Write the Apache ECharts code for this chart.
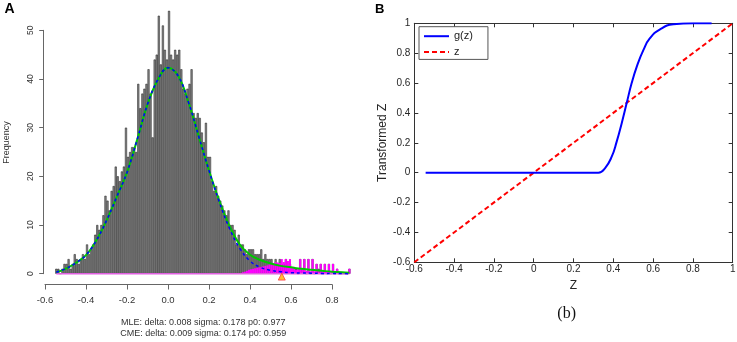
<!DOCTYPE html>
<html><head><meta charset="utf-8">
<script src="https://cdn.jsdelivr.net/npm/echarts@6/dist/echarts.min.js"></script>
<style>html,body{margin:0;padding:0;background:#fff}#c{width:737px;height:342px}</style>
</head><body><div id="c"></div>
<script>
// ---------- Panel A data ----------
const binStart = -0.55;
const binWidth = 0.01;
const histCounts = [
  1,1,0,1,2,2,3,1,2,4, 3,2,3,4,3,6,4,5,6,8,
  10,9,10,12,16,15,13,17,18,22, 20,19,21,22,30,24,25,26,26,25,
  39,34,37,38,39,42,37,28,44,45, 53,43,51,46,44,54,45,44,46,45,
  46,42,38,37,38,39,42,33,32,33, 32,29,27,31,24,24,19,17,18,16,
  15,14,13,12,13,10,10,9,6,8, 6,6,5,4,5,5,5,4,4,4,
  5,3,4,3,3,3,2,3,2,3, 2,2,3,1,2,1,1,1,0,3,
  1,3,0,3,0,3,0,2,1,2, 0,2,0,2,0,2,0,1,0,0,
  0,0,0,1
];
const tailStart = 0.36;
const tailCounts = [
  0.3,0.4,0.6,0.8,0.9,1.0,1.1,1.2,1.3,1.4,
  1.5,1.6,1.7,1.9,2.0,2.2,2.4,2.3,2.2,3,
  2.4,3,2.6,3,1.2,1.4,0.8,1,3,1,
  3,0.6,3,0.5,3,0.5,2,0.5,2,0.4,
  2,0.4,2,0.3,2,0.3,1,0.3,0.2,0.2,
  0.2,0.2,1
];
const fitX =     [-0.545,-0.5,-0.45,-0.4,-0.35,-0.3,-0.25,-0.2,-0.15,-0.1,-0.05,0.0,0.05,0.1,0.15,0.2,0.25,0.3,0.35,0.4,0.45,0.5,0.55,0.6,0.65,0.7,0.75,0.8,0.85,0.885];
const fitGreen = [0.3,1.0,2.2,3.8,6.8,10.9,15.8,20.8,27.6,34.8,39.8,42.3,40.6,35.2,28.2,21.2,15.0,9.8,6.0,3.9,2.8,2.1,1.6,1.3,1.0,0.8,0.6,0.4,0.3,0.2];
const fitBlue =  [0.3,1.0,2.2,3.8,6.8,10.9,15.8,20.8,27.6,34.8,39.8,42.3,40.6,35.2,28.2,21.2,14.8,9.3,5.2,2.6,1.3,0.7,0.4,0.2,0.15,0.1,0.05,0.05,0.02,0];
const deltaMarkX = [0.555];
const deltaMarkY = [-0.6];
const xTicksA = {min: -0.6, max: 0.8, step: 0.2};
const yTicksA = {min: 0, max: 50, step: 10};
const mleText = 'MLE: delta: 0.008 sigma: 0.178 p0: 0.977';
const cmeText = 'CME: delta: 0.009 sigma: 0.174 p0: 0.959';

// ---------- Panel B data ----------
const zLineX = [-0.6, 1];
const gX = [-0.543,-0.4,-0.2,0,0.2,0.325,0.358,0.392,0.417,0.442,0.467,0.492,0.518,0.551,0.584,0.635,0.702,0.802,0.894];
const gY = [0,0,0,0,0,0,0.029,0.107,0.208,0.33,0.464,0.598,0.71,0.82,0.9,0.96,0.993,1,1];
const ticksB = {min: -0.6, max: 1, step: 0.2};

// ---------- build ----------
const FONT = 'Liberation Sans, Arial, sans-serif';
const centers = histCounts.map((_, i) => +(binStart + binWidth * (i + 0.5)).toFixed(3));
const histData = histCounts.map((v, i) => [centers[i], v]);
const tailData = tailCounts.map((v, i) => [+(tailStart + binWidth * (i + 0.5)).toFixed(3), v]);
const baseline = [[centers[0], 0], [centers[centers.length - 1], 0]];
const green = fitX.map((x, i) => [x, fitGreen[i]]);
const blue = fitX.map((x, i) => [x, fitBlue[i]]);
const zData = zLineX.map(x => [x, x]);
const gData = gX.map((x, i) => [x, gY[i]]);

const fmt1 = v => (Math.abs(v) < 1e-9 ? 0 : v).toFixed(1);
const fmtB = v => { const r = Math.round(v * 10) / 10; return String(Math.abs(r) < 1e-9 ? 0 : r); };

const bAxisCommon = {
  type: 'value', gridIndex: 3, min: ticksB.min, max: ticksB.max, interval: ticksB.step,
  axisLine: {show: true, onZero: false, lineStyle: {color: '#333', width: 1}},
  axisTick: {show: true, inside: true, length: 4, lineStyle: {color: '#333'}},
  splitLine: {show: false},
  axisLabel: {fontSize: 10, color: '#262626', fontFamily: FONT, formatter: fmtB}
};

const chart = echarts.init(document.getElementById('c'), null, {renderer: 'canvas'});
chart.setOption({
  animation: false,
  backgroundColor: '#fff',
  grid: [
    {left: 45, top: 6, width: 307.5, height: 292, outerBoundsMode: 'none', containLabel: false},
    {left: 43.7, top: 30.3, width: 1, height: 243.4, outerBoundsMode: 'none', containLabel: false},
    {left: 45, top: 283.5, width: 287, height: 1, outerBoundsMode: 'none', containLabel: false},
    {left: 414.3, top: 23.3, width: 318.4, height: 239, outerBoundsMode: 'none', containLabel: false}
  ],
  xAxis: [
    {type: 'value', gridIndex: 0, min: -0.6, max: 0.9, show: false},
    {type: 'value', gridIndex: 1, min: 0, max: 1, show: false},
    {type: 'value', gridIndex: 2, min: xTicksA.min, max: xTicksA.max, interval: xTicksA.step,
      axisLine: {show: true, onZero: false, lineStyle: {color: '#666', width: 1}},
      axisTick: {show: true, inside: false, length: 5, lineStyle: {color: '#666'}},
      splitLine: {show: false},
      axisLabel: {fontSize: 9.5, color: '#333', fontFamily: FONT, margin: 11, formatter: fmt1}},
    Object.assign({}, bAxisCommon, {position: 'bottom',
      axisLabel: Object.assign({}, bAxisCommon.axisLabel, {margin: 2}),
      name: 'Z', nameLocation: 'middle', nameGap: 12,
      nameTextStyle: {fontSize: 12, color: '#262626', fontFamily: FONT}}),
    Object.assign({}, bAxisCommon, {position: 'top', axisLabel: {show: false}})
  ],
  yAxis: [
    {type: 'value', gridIndex: 0, min: -5, max: 55, show: false},
    {type: 'value', gridIndex: 1, min: yTicksA.min, max: yTicksA.max, interval: yTicksA.step,
      axisLine: {show: true, onZero: false, lineStyle: {color: '#666', width: 1}},
      axisTick: {show: true, inside: false, length: 4.5, lineStyle: {color: '#666'}},
      splitLine: {show: false},
      axisLabel: {fontSize: 8.5, color: '#333', fontFamily: FONT, margin: 9, rotate: 90}},
    {type: 'value', gridIndex: 2, min: 0, max: 1, show: false},
    Object.assign({}, bAxisCommon, {position: 'left',
      axisLabel: Object.assign({}, bAxisCommon.axisLabel, {margin: 4}),
      name: 'Transformed Z', nameLocation: 'middle', nameGap: 25,
      nameTextStyle: {fontSize: 12, color: '#262626', fontFamily: FONT}}),
    Object.assign({}, bAxisCommon, {position: 'right', axisLabel: {show: false}})
  ],
  legend: {
    orient: 'vertical', left: 419, top: 26.7,
    data: ['g(z)', 'z'],
    itemWidth: 25, itemHeight: 10, itemGap: 4.7,
    padding: [4, 15, 2, 4],
    borderColor: '#555', borderWidth: 1, backgroundColor: '#fff',
    itemStyle: {opacity: 0},
    textStyle: {fontSize: 11, color: '#222', fontFamily: FONT},
    selectedMode: false
  },
  series: [
    {type: 'bar', name: 'hist', xAxisIndex: 0, yAxisIndex: 0, data: histData,
      barWidth: '100%', barGap: '-100%', z: 2,
      itemStyle: {color: '#888888', borderColor: '#1a1a1a', borderWidth: 0.5}},
    {type: 'bar', name: 'tail', xAxisIndex: 0, yAxisIndex: 0, data: tailData,
      barWidth: '100%', barGap: '-100%', z: 3,
      itemStyle: {color: '#ff00ff', borderWidth: 0}},
    {type: 'line', name: 'base', xAxisIndex: 0, yAxisIndex: 0, data: baseline, symbol: 'none', z: 4,
      lineStyle: {color: '#e060e0', width: 1.5}},
    {type: 'line', name: 'fit1', xAxisIndex: 0, yAxisIndex: 0, data: green, symbol: 'none', smooth: 0.4, z: 5,
      lineStyle: {color: '#00c800', width: 2}},
    {type: 'line', name: 'fit0', xAxisIndex: 0, yAxisIndex: 0, data: blue, symbol: 'none', smooth: 0.4, z: 6,
      lineStyle: {color: '#0000ff', width: 1.5, type: [3, 3]}},
    {type: 'scatter', name: 'delta', xAxisIndex: 0, yAxisIndex: 0,
      data: deltaMarkX.map((x, i) => [x, deltaMarkY[i]]), symbol: 'triangle', symbolSize: 7, z: 7,
      itemStyle: {color: '#ffb000', borderColor: '#ff4040', borderWidth: 1}},
    {type: 'line', name: 'z', xAxisIndex: 3, yAxisIndex: 3, data: zData, symbol: 'none', z: 5,
      itemStyle: {color: '#ff0000'},
      lineStyle: {color: '#ff0000', width: 2, type: [5, 3]}},
    {type: 'line', name: 'g(z)', xAxisIndex: 3, yAxisIndex: 3, data: gData, symbol: 'none',
      smooth: 0.5, z: 6,
      itemStyle: {color: '#0000ff'},
      lineStyle: {color: '#0000ff', width: 2}}
  ],
  graphic: [
    {type: 'text', x: 9.5, y: 9.5, style: {text: 'A', font: 'bold 14px ' + FONT, fill: '#000', align: 'center', verticalAlign: 'middle'}},
    {type: 'text', x: 379.7, y: 9, style: {text: 'B', font: 'bold 13px ' + FONT, fill: '#000', align: 'center', verticalAlign: 'middle'}},
    {type: 'text', x: 6.5, y: 142.5, rotation: Math.PI / 2, style: {text: 'Frequency', font: '9px ' + FONT, fill: '#333', align: 'center', verticalAlign: 'middle'}},
    {type: 'text', x: 203.3, y: 322.7, style: {text: mleText, font: '9px ' + FONT, fill: '#333', align: 'center', verticalAlign: 'middle'}},
    {type: 'text', x: 203.3, y: 333.3, style: {text: cmeText, font: '9px ' + FONT, fill: '#333', align: 'center', verticalAlign: 'middle'}},
    {type: 'text', x: 566.7, y: 313.3, style: {text: '(b)', font: '16px Liberation Serif, serif', fill: '#111', align: 'center', verticalAlign: 'middle'}}
  ]
});
</script>
</body></html>
